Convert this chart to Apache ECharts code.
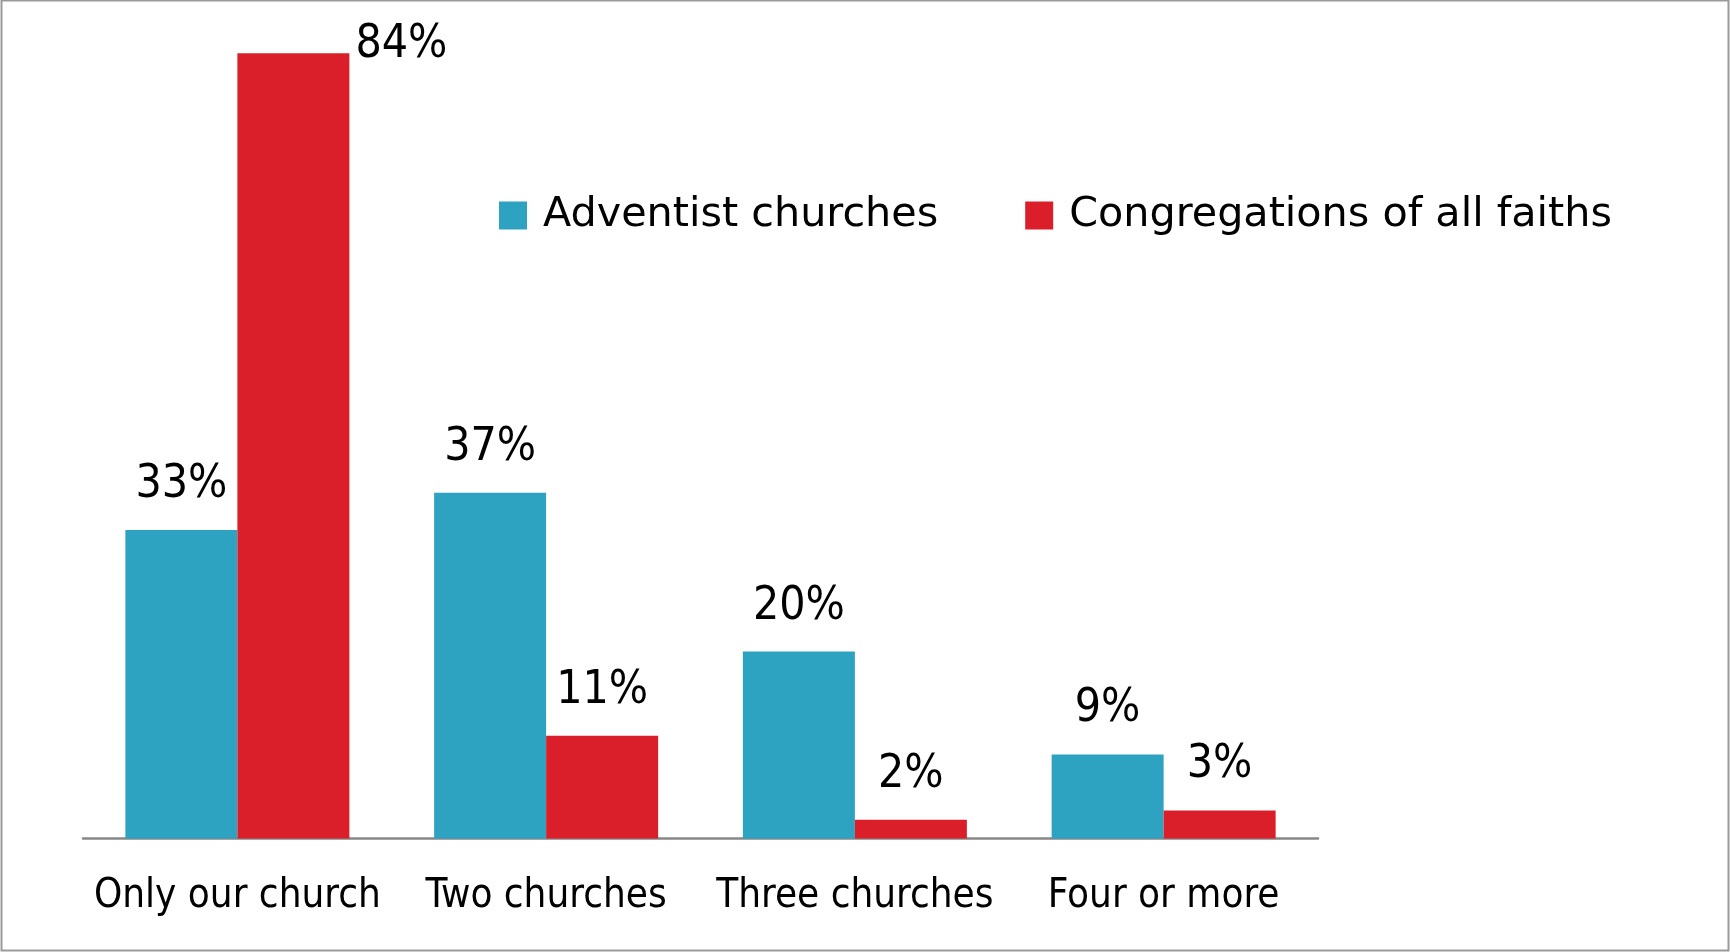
<!DOCTYPE html>
<html>
<head>
<meta charset="utf-8">
<script src="https://cdn.jsdelivr.net/npm/echarts@6/dist/echarts.min.js"></script>
<style>
html,body{margin:0;padding:0;background:#fff;}
#c{width:1730px;height:952px;}
</style>
</head>
<body>
<div id="c"></div>
<script>
const categories = ['Only our church', 'Two churches', 'Three churches', 'Four or more'];
const seriesNames = ['Adventist churches', 'Congregations of all faiths'];
const adventist = [33, 37, 20, 9];
const allFaiths = [84, 11, 2, 3];

const FONT = '"DejaVu Sans Condensed", "Liberation Sans Narrow", sans-serif';
const chart = echarts.init(document.getElementById('c'));

const labelBase = {
  show: true,
  position: 'top',
  distance: 22,
  color: '#000',
  fontFamily: FONT,
  fontSize: 46,
  formatter: '{c}%'
};

chart.setOption({
  animation: false,
  backgroundColor: '#fff',
  graphic: [{
    type: 'rect',
    shape: {x: 1.5, y: 0.5, width: 1727, height: 950},
    style: {fill: 'none', stroke: '#9a9a9a', lineWidth: 2},
    silent: true
  }],
  legend: {
    left: 494,
    top: 190,
    itemWidth: 28,
    itemHeight: 28,
    itemGap: 87,
    icon: 'rect',
    textStyle: {fontFamily: '"DejaVu Sans", sans-serif', fontSize: 41.3, color: '#000', padding: [0, 0, 0, 11]},
    data: seriesNames
  },
  grid: {left: 83, right: 412, top: 44, bottom: 113.5, containLabel: false},
  xAxis: {
    type: 'category',
    data: categories,
    axisTick: {show: false},
    axisLine: {lineStyle: {color: '#888', width: 2.5}},
    axisLabel: {fontFamily: FONT, fontSize: 40, color: '#000', margin: 38, interval: 0}
  },
  yAxis: {
    type: 'value',
    min: 0,
    max: 85,
    show: false,
    splitLine: {show: false}
  },
  series: [
    {
      name: seriesNames[0],
      type: 'bar',
      data: adventist,
      barWidth: 112,
      barGap: '0%',
      itemStyle: {color: '#2EA3C1'},
      label: labelBase
    },
    {
      name: seriesNames[1],
      type: 'bar',
      data: allFaiths.map((v, i) => i === 0 ? {
        value: v,
        label: {position: [118, -8], align: 'left', verticalAlign: 'middle'}
      } : v),
      barWidth: 112,
      itemStyle: {color: '#DB1F2A'},
      label: labelBase
    }
  ]
});
</script>
</body>
</html>
